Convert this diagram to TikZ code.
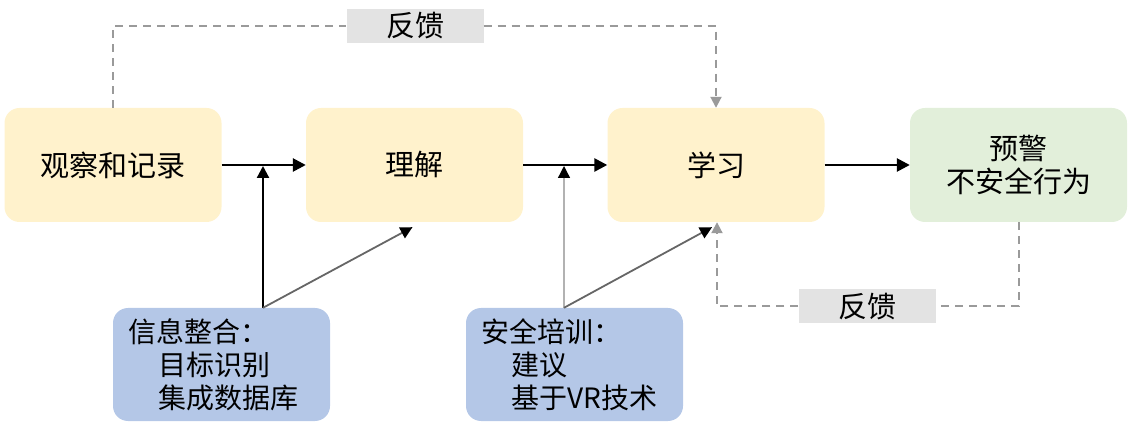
\documentclass[tikz,border=0pt]{standalone}
\usepackage{fontspec}
\setmainfont{Noto Sans CJK SC}
\usetikzlibrary{arrows.meta,calc}
\definecolor{ybox}{HTML}{FFF2CC}
\definecolor{gbox}{HTML}{E2EFDA}
\definecolor{bbox}{HTML}{B4C7E7}
\definecolor{lbox}{HTML}{E3E3E3}
\definecolor{dgray}{HTML}{9A9A9A}
\tikzset{
  mainbox/.style={rectangle, rounded corners=15pt, minimum width=217pt, minimum height=114pt, inner sep=0pt, fill=ybox, font=\fontsize{29}{33}\selectfont, align=center},
  bluebox/.style={rectangle, rounded corners=15pt, minimum width=217pt, minimum height=113pt, inner sep=0pt, fill=bbox, font=\fontsize{28}{33}\selectfont, align=left, text width=187pt},
  fblabel/.style={rectangle, fill=lbox, minimum width=137pt, minimum height=34pt, inner sep=0pt, font=\fontsize{29}{33}\selectfont},
  mainarrow/.style={line width=2.6pt, -{Triangle[length=13pt,width=13pt]}},
  fb/.style={draw=dgray, line width=2pt, dash pattern=on 8pt off 6pt},
  fbarrow/.style={fb, -{Triangle[length=11pt,width=11pt]}, dgray},
  blacktip/.style={-{Triangle[length=12pt,width=12pt,color=black]}},
}
\begin{document}
\begin{tikzpicture}[x=1pt,y=-1pt]
\useasboundingbox (0,0) rectangle (1135,427);
% main boxes
\node[mainbox] (obs) at (113,165) {观察和记录};
\node[mainbox] (und) at (414.5,165) {理解};
\node[mainbox] (lrn) at (716,165) {学习};
\node[mainbox, fill=gbox] (warn) at (1018.5,165) {预警\\不安全行为};
% blue boxes
\node[bluebox] (info) at (221.5,364.5) {信息整合：\\\hspace*{1.1em}目标识别\\\hspace*{1.1em}集成数据库};
\node[bluebox] (safe) at (574.5,364.5) {安全培训：\\\hspace*{1.1em}建议\\\hspace*{1.1em}基于VR技术};
% feedback labels
\node[fblabel] (fb1) at (415,26) {反馈};
\node[fblabel] (fb2) at (867,306.5) {反馈};
% main flow
\draw[mainarrow] (obs.east) -- (und.west);
\draw[mainarrow] (und.east) -- (lrn.west);
\draw[mainarrow] (lrn.east) -- (warn.west);
% junctions
\coordinate (j1) at (263,166);
\coordinate (j2) at (564,166);
\coordinate (b1) at (info.north -| j1);
\coordinate (b2) at (safe.north -| j2);
\coordinate (d1) at ($(und.south)+(-2,5)$);
\coordinate (d2) at ($(lrn.south)+(-4,5)$);
\draw[line width=2.2pt, blacktip] (b1) -- (j1);
\draw[line width=1.3pt, draw=black!30, blacktip] (b2) -- (j2);
\draw[line width=1.8pt, draw=black!60, blacktip] (b1) -- (d1);
\draw[line width=1.8pt, draw=black!60, blacktip] (b2) -- (d2);
% feedback loops
\draw[fb] (obs.north) |- (fb1.west);
\draw[fbarrow] (fb1.east) -| (lrn.north);
\draw[fb] (warn.south) |- (fb2.east);
\draw[fbarrow] (fb2.west) -| ($(lrn.south)+(1,0)$);
\end{tikzpicture}
\end{document}
